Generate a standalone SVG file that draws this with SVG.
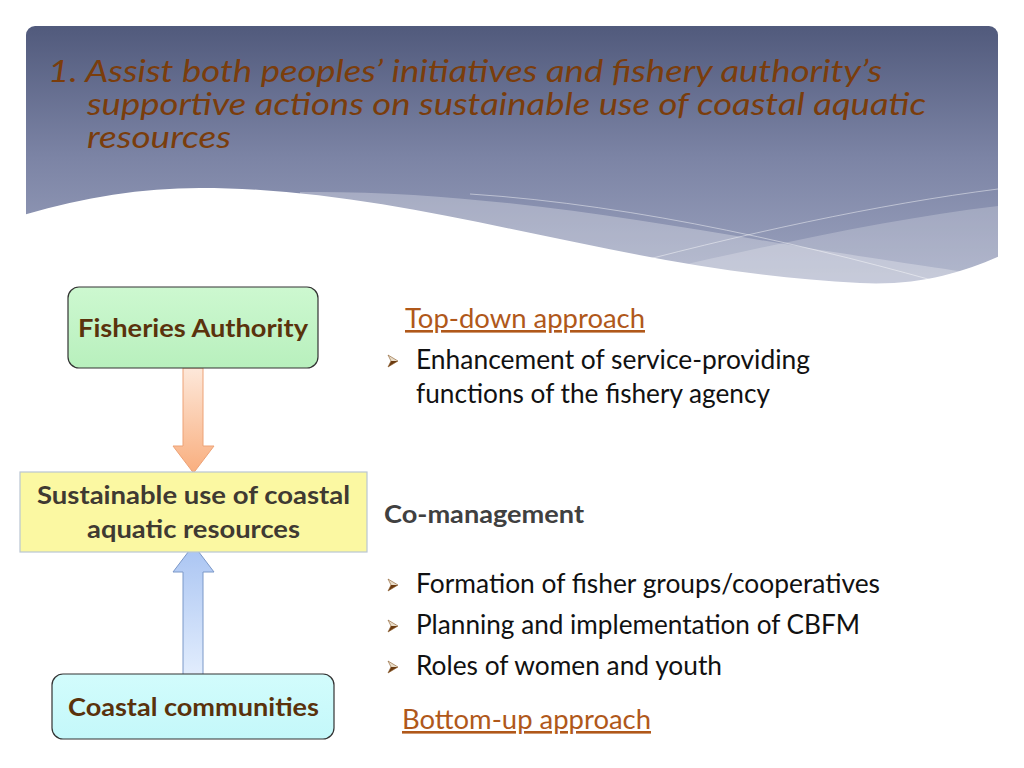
<svg xmlns="http://www.w3.org/2000/svg" width="1024" height="768" viewBox="0 0 1024 768">
<defs>
<linearGradient id="hdr" x1="0" y1="26" x2="0" y2="290" gradientUnits="userSpaceOnUse">
<stop offset="0" stop-color="#515a7c"/>
<stop offset="0.5" stop-color="#7c84a5"/>
<stop offset="1" stop-color="#9ea5c0"/>
</linearGradient>
<linearGradient id="gGreen" x1="0" y1="0" x2="0" y2="1">
<stop offset="0" stop-color="#cdf8d0"/>
<stop offset="1" stop-color="#b8f0bd"/>
</linearGradient>
<linearGradient id="gCyan" x1="0" y1="0" x2="0" y2="1">
<stop offset="0" stop-color="#d2fcfc"/>
<stop offset="1" stop-color="#c4f8fa"/>
</linearGradient>
<linearGradient id="gOrange" x1="0" y1="0" x2="0" y2="1">
<stop offset="0" stop-color="#fde8da"/>
<stop offset="1" stop-color="#f9ae7e"/>
</linearGradient>
<linearGradient id="gBlue" x1="0" y1="0" x2="0" y2="1">
<stop offset="0" stop-color="#a9c4f2"/>
<stop offset="1" stop-color="#e2edfd"/>
</linearGradient>
<clipPath id="hclip"><rect x="26" y="26" width="972" height="290" rx="9"/></clipPath>
<g id="bullet">
<polygon points="0,-6 10,0 3,0" fill="#e8dcc8"/>
<polygon points="3,0 10,0 0,6" fill="#6b3a10"/>
<polygon points="0,-6 10,0 0,6 3,0" fill="none" stroke="#8a5a2a" stroke-width="0.6"/>
</g>
</defs>
<style>
.title{font-family:Lato,"Liberation Sans",sans-serif;font-style:italic;font-size:30.5px;fill:#7a3d0c}
.nodeTxt{font-family:Lato,"Liberation Sans",sans-serif;font-weight:bold;font-size:25px;text-anchor:middle}
.body{font-family:Lato,"Liberation Sans",sans-serif;font-size:26px;fill:#111}
.link{font-family:Lato,"Liberation Sans",sans-serif;font-size:26px;fill:#b0581a;text-decoration:underline}
.box{stroke:#333;stroke-width:1.2}
</style>
<rect width="1024" height="768" fill="#ffffff"/>
<g id="header">
<g clip-path="url(#hclip)">
<rect x="26" y="26" width="972" height="266" fill="url(#hdr)"/>
<path d="M300,192 C480,190 650,222 820,250 C900,262 960,272 998,276 L998,292 L300,292 Z" fill="#ffffff" fill-opacity="0.28"/>
<path d="M560,292 C700,262 860,222 998,206 L998,292 Z" fill="#ffffff" fill-opacity="0.22"/>
<path d="M470,194 C640,205 820,248 960,288" fill="none" stroke="#ffffff" stroke-opacity="0.45" stroke-width="1"/>
<path d="M600,272 C740,234 880,204 998,189" fill="none" stroke="#ffffff" stroke-opacity="0.45" stroke-width="1"/>
<path d="M20,216 C80,198 140,188 200,188 C420,188 620,272 860,283 C920,286 965,272 1004,254 L1004,320 L20,320 Z" fill="#ffffff"/>
</g>
<text class="title" x="48" y="82" textLength="834" lengthAdjust="spacingAndGlyphs">1. Assist both peoples’ initiatives and fishery authority’s</text>
<text class="title" x="87" y="115" textLength="839" lengthAdjust="spacingAndGlyphs">supportive actions on sustainable use of coastal aquatic</text>
<text class="title" x="87" y="148" textLength="144" lengthAdjust="spacingAndGlyphs">resources</text>
</g>
<g id="connectors">
<path id="arrowDown" d="M183,368 L203,368 L203,446 L214,446 L193.5,473 L173,446 L183,446 Z" fill="url(#gOrange)" stroke="#eda276" stroke-width="1"/>
<path id="arrowUp" d="M183,675 L203,675 L203,572 L214,572 L193.5,545 L173,572 L183,572 Z" fill="url(#gBlue)" stroke="#7b98c8" stroke-width="1"/>
</g>
<g id="node-fisheries">
<rect class="box" x="68" y="287" width="250" height="81" rx="11" fill="url(#gGreen)"/>
<text class="nodeTxt" x="193" y="337" fill="#5a320c" textLength="230" lengthAdjust="spacingAndGlyphs">Fisheries Authority</text>
</g>
<g id="node-sustainable">
<rect x="20" y="472" width="347" height="80" fill="#fbf8a2" stroke="#b9c6d2" stroke-width="1.2"/>
<text class="nodeTxt" x="193.5" y="504" fill="#3f3a32" textLength="313" lengthAdjust="spacingAndGlyphs">Sustainable use of coastal</text>
<text class="nodeTxt" x="193.5" y="538" fill="#3f3a32" textLength="213" lengthAdjust="spacingAndGlyphs">aquatic resources</text>
</g>
<g id="node-coastal">
<rect class="box" x="52" y="674" width="282" height="65" rx="11" fill="url(#gCyan)"/>
<text class="nodeTxt" x="193.5" y="716" fill="#5a320c" textLength="251" lengthAdjust="spacingAndGlyphs">Coastal communities</text>
</g>
<g id="text-topdown">
<text class="link" x="405" y="328" textLength="240" lengthAdjust="spacingAndGlyphs">Top-down approach</text>
<use href="#bullet" x="388" y="361"/>
<text class="body" x="416" y="369" textLength="394" lengthAdjust="spacingAndGlyphs">Enhancement of service-providing</text>
<text class="body" x="416" y="403" textLength="354" lengthAdjust="spacingAndGlyphs">functions of the fishery agency</text>
</g>
<g id="text-comanagement">
<text x="384" y="523" font-family="Lato, 'Liberation Sans', sans-serif" font-weight="bold" font-size="25" fill="#404040" textLength="200" lengthAdjust="spacingAndGlyphs">Co-management</text>
</g>
<g id="text-bottomup">
<use href="#bullet" x="388" y="585"/>
<text class="body" x="416" y="593" textLength="464" lengthAdjust="spacingAndGlyphs">Formation of fisher groups/cooperatives</text>
<use href="#bullet" x="388" y="626"/>
<text class="body" x="416" y="634" textLength="444" lengthAdjust="spacingAndGlyphs">Planning and implementation of CBFM</text>
<use href="#bullet" x="388" y="667"/>
<text class="body" x="416" y="675" textLength="306" lengthAdjust="spacingAndGlyphs">Roles of women and youth</text>
<text class="link" x="402" y="729" textLength="249" lengthAdjust="spacingAndGlyphs">Bottom-up approach</text>
</g>
</svg>
